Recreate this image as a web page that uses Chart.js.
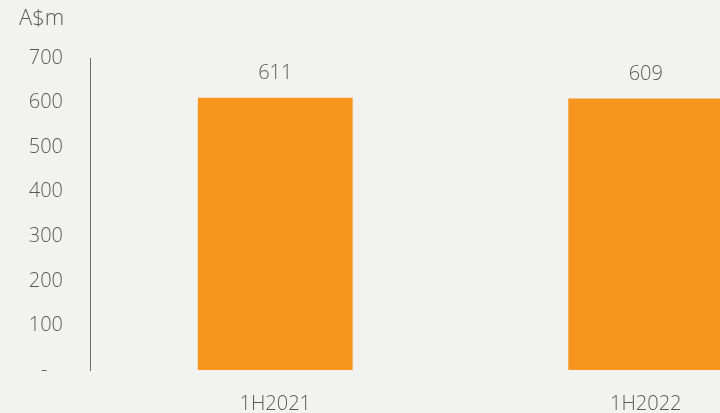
<!DOCTYPE html>
<html lang="en">
<head>
    <meta charset="UTF-8">
    <title>A$m by half-year</title>
    <script src="https://cdn.jsdelivr.net/npm/chart.js"></script>
    <style>
        html, body { margin: 0; padding: 0; background: #f2f2f0; overflow: hidden; }
        .wrap { position: relative; width: 835px; height: 413px; }
    </style>
</head>
<body>
    <div class="wrap"><canvas id="chart" width="835" height="413"></canvas></div>
    <script>
        const categories = ['1H2021', '1H2022'];
        const values = [611, 609];
        const yTicks = [0, 100, 200, 300, 400, 500, 600, 700];
        const unitLabel = 'A$m';

        const textColor = '#595959';
        const fontFamily = '"Open Sans", "Noto Sans", sans-serif';
        const tickFont = { family: fontFamily, size: 20, weight: 300 };

        // labels above bars + unit label at top left
        const annotate = {
            id: 'annotate',
            afterDatasetsDraw(chart) {
                const ctx = chart.ctx;
                ctx.save();
                ctx.fillStyle = textColor;
                ctx.font = '300 20px ' + fontFamily;
                ctx.textAlign = 'center';
                ctx.textBaseline = 'middle';
                chart.getDatasetMeta(0).data.forEach((bar, i) => {
                    ctx.fillText(String(values[i]), bar.x, bar.y - 24);
                });
                ctx.font = '300 22px ' + fontFamily;
                ctx.textAlign = 'left';
                ctx.fillText(unitLabel, 19, 19);
                ctx.restore();
            }
        };

        new Chart(document.getElementById('chart'), {
            type: 'bar',
            data: {
                labels: categories,
                datasets: [{
                    data: values,
                    backgroundColor: '#f7941d',
                    barPercentage: 0.418,
                    categoryPercentage: 1
                }]
            },
            options: {
                responsive: false,
                maintainAspectRatio: false,
                animation: false,
                devicePixelRatio: 1,
                layout: { padding: { top: 58, left: 0, right: 4, bottom: 0 } },
                plugins: { legend: { display: false }, tooltip: { enabled: false } },
                scales: {
                    x: {
                        grid: { display: false },
                        border: { display: false },
                        ticks: { color: textColor, font: tickFont, padding: 14 },
                        afterFit(scale) { scale.height = 43; }
                    },
                    y: {
                        min: 0,
                        max: 700,
                        grid: { display: false },
                        border: { display: true, color: '#6b6b6b', width: 1 },
                        afterBuildTicks(scale) { scale.ticks = yTicks.map(v => ({ value: v })); },
                        ticks: {
                            color: textColor,
                            font: tickFont,
                            padding: 19,
                            callback: v => v === 0 ? '-   ' : String(v)
                        },
                        afterFit(scale) { scale.width = 90; }
                    }
                }
            },
            plugins: [annotate]
        });
    </script>
</body>
</html>
